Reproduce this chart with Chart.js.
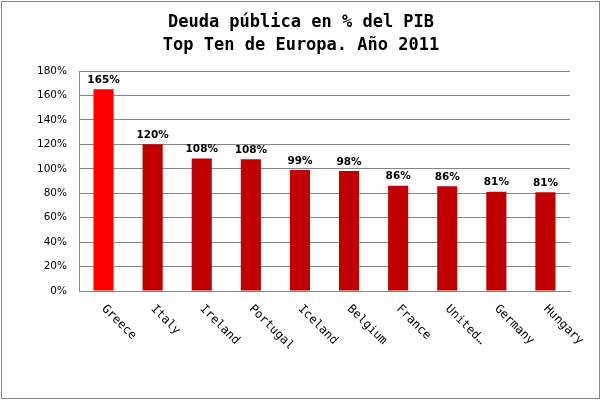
<!DOCTYPE html>
<html><head><meta charset="utf-8">
<script src="https://cdn.jsdelivr.net/npm/chart.js@4/dist/chart.umd.min.js"></script>
<style>html,body{margin:0;padding:0;background:#fff}#wrap{width:602px;height:401px}</style>
</head><body><div id="wrap"><canvas id="c" width="602" height="401"></canvas></div>
<script>
const titleLines = ['Deuda pública en % del PIB', 'Top Ten de Europa. Año 2011'];
const categories = ['Greece','Italy','Ireland','Portugal','Iceland','Belgium','France','United…','Germany','Hungary'];
const debtPct = [165.1, 120.1, 108.4, 107.8, 98.9, 98.1, 86.2, 85.7, 81.3, 80.8];
const barColors = ['#FF0000','#C00000','#C00000','#C00000','#C00000','#C00000','#C00000','#C00000','#C00000','#C00000'];
const yTicks = [0,20,40,60,80,100,120,140,160,180];

const GRID = '#868686';

const framePlugin = {
  id: 'frame',
  beforeDraw(chart) {
    const ctx = chart.ctx;
    ctx.save();
    ctx.fillStyle = '#fff';
    ctx.fillRect(0,0,chart.width,chart.height);
    ctx.strokeStyle = GRID;
    ctx.lineWidth = 1;
    ctx.strokeRect(1.5, 1.5, 598, 397);
    // title
    ctx.fillStyle = '#000';
    ctx.font = 'bold 17px "DejaVu Sans Mono"';
    ctx.textAlign = 'center';
    ctx.textBaseline = 'alphabetic';
    titleLines.forEach((t, i) => ctx.fillText(t, 301, 27 + i * 23));
    ctx.restore();
  }
};

const labelPlugin = {
  id: 'labels',
  afterDatasetsDraw(chart) {
    const ctx = chart.ctx;
    const meta = chart.getDatasetMeta(0);
    ctx.save();
    ctx.font = 'bold 10.5px "DejaVu Sans"';
    ctx.fillStyle = '#000';
    ctx.textAlign = 'center';
    ctx.textBaseline = 'bottom';
    meta.data.forEach((bar, i) => {
      ctx.fillText(Math.round(debtPct[i]) + '%', bar.x, bar.y - 4);
    });
    // rotated category labels
    const xs = chart.scales.x;
    ctx.font = '12px "DejaVu Sans Mono"';
    ctx.textAlign = 'left';
    ctx.textBaseline = 'middle';
    categories.forEach((lab, i) => {
      const x = xs.getPixelForTick(i);
      ctx.save();
      ctx.translate(x, xs.top + 16);
      ctx.rotate(Math.PI/4);
      ctx.fillText(lab, 0, 0);
      ctx.restore();
    });
    ctx.restore();
  }
};

new Chart(document.getElementById('c'), {
  type: 'bar',
  data: {
    labels: categories,
    datasets: [{ data: debtPct, backgroundColor: barColors, borderWidth: 0, barPercentage: 0.41, categoryPercentage: 1 }]
  },
  options: {
    responsive: false,
    animation: false,
    devicePixelRatio: 1,
    layout: { padding: { left: 0, right: 32, top: 71, bottom: 0 } },
    plugins: {
      legend: { display: false },
      tooltip: { enabled: false },
      title: { display: false }
    },
    scales: {
      x: {
        grid: { display: false },
        border: { display: true, color: GRID },
        ticks: { display: false },
        afterFit(s) { s.height = 110; }
      },
      y: {
        min: 0, max: 180,
        afterBuildTicks(s) { s.ticks = yTicks.map(v => ({ value: v })); },
        grid: { color: GRID, drawTicks: false },
        border: { display: true, color: GRID },
        ticks: { padding: 12, color: '#000', font: { family: '"DejaVu Sans"', size: 10.5 }, callback: v => v + '%' },
        afterFit(s) { s.width = 79; }
      }
    }
  },
  plugins: [framePlugin, labelPlugin]
});
</script>
</body></html>
